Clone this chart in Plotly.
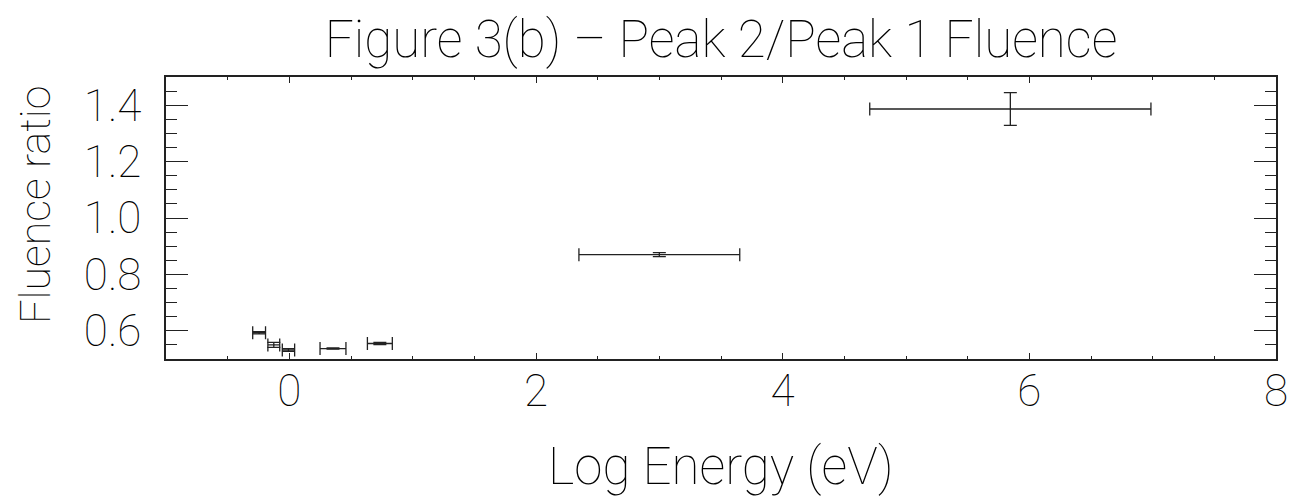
import plotly.graph_objects as go

# Data
log_energy = [-0.245, -0.126, -0.007, 0.354, 0.734, 3.0, 5.846]
log_energy_err = [0.052, 0.048, 0.050, 0.105, 0.101, 0.652, 1.14]
fluence_ratio = [0.593, 0.550, 0.532, 0.537, 0.555, 0.870, 1.3865]
fluence_ratio_err = [0.004, 0.009, 0.005, 0.002, 0.004, 0.007, 0.058]

x_tickvals = [0, 2, 4, 6, 8]
y_tickvals = [0.6, 0.8, 1.0, 1.2, 1.4]
y_ticktext = ["0.6", "0.8", "1.0", "1.2", "1.4"]

FONT = "Roboto"
LINE = "#222222"

# the page body adds an 8px offset, so the figure is sized/margined to compensate
W, H = 1293, 488
ML, MR, MT, MB = 158, 25, 69, 137
PW, PH = W - ML - MR, H - MT - MB

fig = go.Figure()
fig.add_trace(go.Scatter(
    x=log_energy, y=fluence_ratio, mode="markers",
    marker=dict(size=1, color=LINE),
    error_x=dict(type="data", array=log_energy_err, visible=True,
                 color=LINE, thickness=1.3, width=6.5),
    error_y=dict(type="data", array=fluence_ratio_err, visible=True,
                 color=LINE, thickness=1.3, width=6.5),
    showlegend=False,
))

fig.update_layout(
    width=W, height=H,
    margin=dict(l=ML, r=MR, t=MT, b=MB, autoexpand=False),
    paper_bgcolor="white", plot_bgcolor="white",
    title=dict(text="Figure 3(b) \u2013 Peak 2/Peak 1 Fluence",
               x=0.5, xref="paper", xanchor="center",
               y=1 - 31 / H, yref="container", yanchor="middle",
               font=dict(family=FONT, size=51, color="black", weight=100)),
    font=dict(family=FONT, color="black"),
    annotations=[
        dict(text="Fluence ratio", textangle=-90,
             xref="paper", x=-(ML - 27) / PW, xanchor="center",
             yref="paper", y=(MT + PH - 197) / PH, yanchor="middle",
             showarrow=False, borderpad=0,
             font=dict(family=FONT, size=43, weight=100, color="black")),
        dict(text="Log Energy (eV)",
             xref="paper", x=0.5, xanchor="center",
             yref="paper", y=-(459 - (MT + PH)) / PH, yanchor="middle",
             showarrow=False,
             font=dict(family=FONT, size=51, weight=100, color="black")),
    ],
)

fig.update_xaxes(
    range=[-1, 8], tickvals=x_tickvals, automargin=False,
    showgrid=False, zeroline=False,
    showline=True, linecolor=LINE, linewidth=1.5, mirror="allticks",
    ticks="inside", ticklen=6, tickwidth=1.3, tickcolor=LINE,
    minor=dict(dtick=0.5, ticks="inside", ticklen=3, tickwidth=1, tickcolor=LINE),
    tickfont=dict(family=FONT, size=44, weight=100),
    ticklabelstandoff=-8,
)
fig.update_yaxes(
    range=[0.5, 1.5], tickvals=y_tickvals, ticktext=y_ticktext, automargin=False,
    showgrid=False, zeroline=False,
    showline=True, linecolor=LINE, linewidth=1.5, mirror="allticks",
    ticks="inside", ticklen=22, tickwidth=1.3, tickcolor=LINE,
    minor=dict(dtick=0.05, tick0=0.5, ticks="inside", ticklen=11, tickwidth=1.3, tickcolor=LINE),
    tickfont=dict(family=FONT, size=44, weight=100),
    ticklabelstandoff=14,
)

fig.write_html("out.html")
